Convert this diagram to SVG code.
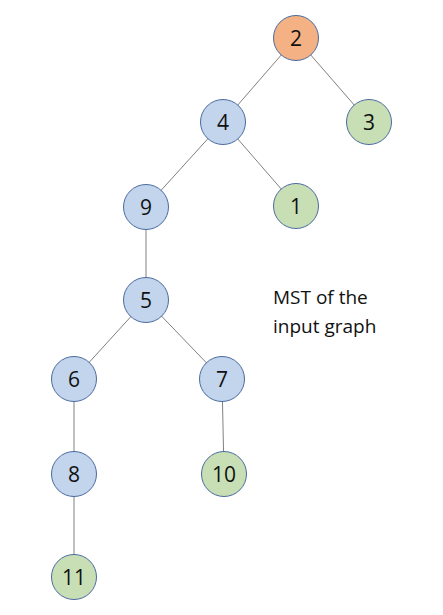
<svg xmlns="http://www.w3.org/2000/svg" width="443" height="615" viewBox="0 0 443 615">
<style>
.n circle{stroke:#4A6AA0;stroke-width:1}
.o{fill:#F4B183}.b{fill:#C2D5EC}.g{fill:#C8DFB5}
.n text{font-family:"Open Sans","Liberation Sans",sans-serif;font-size:21px;fill:#111;text-anchor:middle;dominant-baseline:central}
#edges line{stroke:#808080;stroke-width:1}
.lbl{font-family:"Open Sans","Liberation Sans",sans-serif;font-size:19px;fill:#111}
</style>
<rect width="443" height="615" fill="#fff"/>
<g id="edges">
<line x1="296" y1="38" x2="223" y2="122"/>
<line x1="296" y1="38" x2="369" y2="122"/>
<line x1="223" y1="122" x2="146" y2="207"/>
<line x1="223" y1="122" x2="296" y2="206"/>
<line x1="146" y1="207" x2="146" y2="300"/>
<line x1="146" y1="300" x2="74" y2="379"/>
<line x1="146" y1="300" x2="222" y2="379"/>
<line x1="74" y1="379" x2="74" y2="474"/>
<line x1="222" y1="379" x2="224" y2="474"/>
<line x1="74" y1="474" x2="74" y2="577"/>
</g>
<g id="node2" class="n"><circle class="o" cx="296" cy="38" r="22.5"/><text x="296" y="38">2</text></g>
<g id="node4" class="n"><circle class="b" cx="223" cy="122" r="22.5"/><text x="223" y="122">4</text></g>
<g id="node3" class="n"><circle class="g" cx="369" cy="122" r="22.5"/><text x="369" y="122">3</text></g>
<g id="node9" class="n"><circle class="b" cx="146" cy="207" r="22.5"/><text x="146" y="207">9</text></g>
<g id="node1" class="n"><circle class="g" cx="296" cy="206" r="22.5"/><text x="296" y="206">1</text></g>
<g id="node5" class="n"><circle class="b" cx="146" cy="300" r="22.5"/><text x="146" y="300">5</text></g>
<g id="node6" class="n"><circle class="b" cx="74" cy="379" r="22.5"/><text x="74" y="379">6</text></g>
<g id="node7" class="n"><circle class="b" cx="222" cy="379" r="22.5"/><text x="222" y="379">7</text></g>
<g id="node8" class="n"><circle class="b" cx="74" cy="474" r="22.5"/><text x="74" y="474">8</text></g>
<g id="node10" class="n"><circle class="g" cx="224" cy="474" r="22.5"/><text x="224" y="474">10</text></g>
<g id="node11" class="n"><circle class="g" cx="74" cy="577" r="22.5"/><text x="74" y="577">11</text></g>
<g id="label">
<text class="lbl" x="273" y="304">MST of the</text>
<text class="lbl" x="273" y="333">input graph</text>
</g>
</svg>
